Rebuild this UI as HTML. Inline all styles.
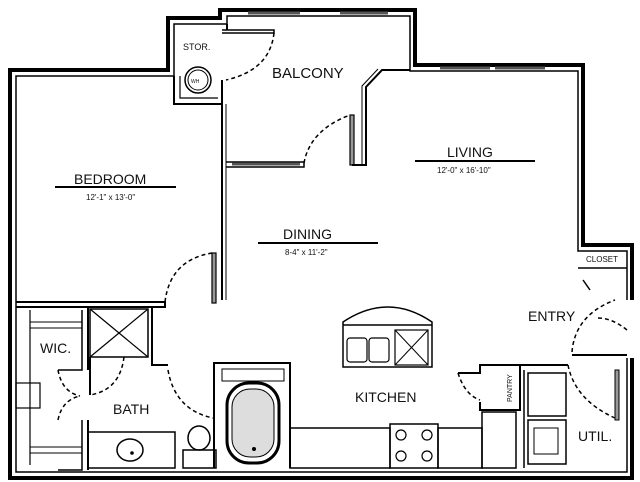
<!DOCTYPE html>
<html><head><meta charset="utf-8"><style>
body{margin:0;background:#fff;}
svg{display:block}
text{font-family:"Liberation Sans",sans-serif;fill:#111}
</style></head><body>
<svg width="640" height="482" viewBox="0 0 640 482" xmlns="http://www.w3.org/2000/svg">
<g fill="none" stroke="#000" stroke-linejoin="miter">
<!-- outer wall thick -->
<polyline stroke-width="4" points="632,300 632,245 583,245 583,65 415,65 415,10 220,10 220,18 168,18 168,70 10,70 10,478 632,478 632,358"/>
<!-- inner outline -->
<polyline stroke-width="1.5" points="627,300 627,251 578,251 578,71 410,71 410,16 227,16 227,24 174,24 174,76 16,76 16,472 627,472 627,358"/>
<!-- stor box -->
<polyline stroke-width="2" points="174,76 174,104 222,104 222,80"/>
<polyline stroke-width="1.2" points="180,76 180,98 218,98"/>
<line x1="227" y1="24" x2="227" y2="30" stroke-width="2"/>
<polyline stroke-width="1.5" points="222,30 274,30 274,33 222,33"/>
<path d="M274,33 Q270,70 226,80" stroke-dasharray="4,3" stroke-width="1.5"/>
<circle cx="198" cy="80" r="13" stroke-width="1.5"/>
<circle cx="198" cy="80" r="10" stroke-width="1"/>
<!-- bedroom right wall -->
<line x1="222" y1="80" x2="222" y2="300" stroke-width="2"/>
<line x1="226" y1="104" x2="226" y2="300" stroke-width="1"/>
<!-- balcony/dining wall -->
<polyline stroke-width="1.5" points="226,162 304,162 304,167 226,167"/>
<path d="M304,163 Q310,130 350,115" stroke-dasharray="4,3" stroke-width="1.5"/>
<rect x="350" y="115" width="4" height="50" stroke-width="1.2" fill="#999"/>
<polyline stroke-width="2" points="352,165 366,165 366,87 382,70 410,70"/>
<polyline stroke-width="1" points="362,165 362,86 378,69"/>
<!-- bedroom bottom wall & door -->
<polyline stroke-width="2" points="16,302 165,302 165,307 16,307"/>
<path d="M165,302 Q170,260 212,253" stroke-dasharray="4,3" stroke-width="1.5"/>
<rect x="212" y="253" width="4" height="50" fill="#999" stroke-width="1.2"/>
<!-- bath block -->
<polyline stroke-width="2" points="88,307 88,370"/>
<polyline stroke-width="2" points="88,420 88,470"/>
<polyline stroke-width="1.5" points="82,310 82,370 58,370"/>
<polyline stroke-width="1.5" points="82,420 82,470 58,470"/>
<polyline stroke-width="1.2" points="30,310 30,465"/>
<rect x="16" y="383" width="24" height="25" stroke-width="1.2"/>
<rect x="30" y="322" width="52" height="6" stroke-width="1"/>
<rect x="30" y="447" width="52" height="6" stroke-width="1"/>
<path d="M58,370 Q62,392 80,396 M58,420 Q62,400 80,396" stroke-dasharray="4,3" stroke-width="1.5"/>
<rect x="90" y="309" width="58" height="48" stroke-width="1.5"/>
<line x1="90" y1="309" x2="148" y2="357" stroke-width="1.2"/>
<line x1="148" y1="309" x2="90" y2="357" stroke-width="1.2"/>
<line x1="90" y1="357" x2="90" y2="395" stroke-width="2"/>
<path d="M124,357 Q120,390 90,395" stroke-dasharray="4,3" stroke-width="1.5"/>
<polyline stroke-width="2" points="152,307 152,365 168,365"/>
<path d="M168,370 Q175,410 213,418" stroke-dasharray="4,3" stroke-width="1.5"/>
<rect x="88" y="432" width="87" height="36" stroke-width="1.5"/>
<ellipse cx="130" cy="450" rx="13" ry="11" stroke-width="1.5"/>
<ellipse cx="199" cy="438" rx="11" ry="12" stroke-width="1.5"/>
<rect x="183" y="450" width="33" height="18" stroke-width="1.5"/>
<!-- tub -->
<polyline stroke-width="2" points="214,468 214,363 290,363 290,468"/>
<rect x="222" y="369" width="62" height="12" stroke-width="1"/>
<rect x="227" y="383" width="52" height="80" rx="22" stroke-width="3"/>
<rect x="232" y="389" width="42" height="68" rx="18" fill="#ddd" stroke-width="1"/>
<!-- counters -->
<rect x="290" y="428" width="100" height="40" stroke-width="1.5"/>
<rect x="390" y="424" width="48" height="44" stroke-width="1.5"/>
<rect x="438" y="428" width="44" height="40" stroke-width="1.5"/>
<rect x="482" y="412" width="34" height="56" stroke-width="1.5"/>
<g stroke-width="1.2"><circle cx="401" cy="435" r="5"/><circle cx="427" cy="435" r="5"/><circle cx="401" cy="456" r="5"/><circle cx="427" cy="456" r="5"/></g>
<!-- island -->
<path d="M343,322 Q388,292 432,322 L432,367 L343,367 Z" stroke-width="1.5"/>
<line x1="343" y1="325" x2="432" y2="325" stroke-width="1.5"/>
<rect x="347" y="338" width="20" height="24" rx="3" stroke-width="1.2"/>
<rect x="369" y="338" width="20" height="24" rx="3" stroke-width="1.2"/>
<rect x="395" y="330" width="33" height="35" stroke-width="1.2"/>
<line x1="395" y1="330" x2="428" y2="365" stroke-width="1"/>
<line x1="428" y1="330" x2="395" y2="365" stroke-width="1"/>
<!-- pantry -->
<polyline stroke-width="2" points="458,373 480,373 480,365 520,365 520,410 480,410 480,402"/>
<path d="M458,373 Q465,395 480,400" stroke-dasharray="4,3" stroke-width="1.5"/>
<!-- util -->
<polyline stroke-width="2" points="520,365 568,365"/>
<line x1="524" y1="370" x2="524" y2="468" stroke-width="1.5"/>
<rect x="528" y="373" width="38" height="43" stroke-width="1.5"/>
<rect x="528" y="420" width="38" height="44" stroke-width="1.5"/>
<rect x="534" y="428" width="24" height="26" stroke-width="1"/>
<path d="M568,365 Q575,400 615,418" stroke-dasharray="4,3" stroke-width="1.5"/>
<rect x="615" y="370" width="4" height="50" fill="#999" stroke-width="1"/>
<polyline stroke-width="2" points="572,355 627,355"/>
<!-- entry door -->
<path d="M572,352 Q575,315 615,300 M598,318 Q612,318 627,330" stroke-dasharray="4,3" stroke-width="1.5"/>
<polyline stroke-width="1.5" points="578,268 627,268"/>
<polyline stroke-width="1.5" points="583,280 590,290 M627,280 622,290"/>
<!-- windows -->
<g stroke="#555" stroke-width="3">
<line x1="248" y1="13" x2="300" y2="13"/><line x1="340" y1="13" x2="388" y2="13"/>
<line x1="440" y1="68" x2="490" y2="68"/><line x1="495" y1="68" x2="545" y2="68"/>
<line x1="232" y1="164" x2="300" y2="164"/>
</g>
<!-- label lines -->
<line x1="55" y1="187" x2="176" y2="187" stroke-width="2"/>
<line x1="415" y1="161" x2="535" y2="161" stroke-width="2"/>
<line x1="258" y1="243" x2="378" y2="243" stroke-width="2"/>
</g>
<g fill="#000"><circle cx="132" cy="453" r="1.8"/><circle cx="254" cy="449" r="2"/></g>
<text x="183" y="50" font-size="9">STOR.</text>
<text x="191" y="83" font-size="5">WH</text>
<text x="272" y="78" font-size="15">BALCONY</text>
<text x="74" y="184" font-size="14">BEDROOM</text>
<text x="86" y="200" font-size="8">12'-1" x 13'-0"</text>
<text x="447" y="157" font-size="14">LIVING</text>
<text x="437" y="173" font-size="8">12'-0" x 16'-10"</text>
<text x="283" y="239" font-size="14">DINING</text>
<text x="285" y="255" font-size="8">8-4" x 11'-2"</text>
<text x="586" y="262" font-size="8">CLOSET</text>
<text x="528" y="321" font-size="14">ENTRY</text>
<text x="40" y="353" font-size="14">WIC.</text>
<text x="113" y="414" font-size="14">BATH</text>
<text x="355" y="402" font-size="14">KITCHEN</text>
<text x="578" y="441" font-size="14">UTIL.</text>
<text x="0" y="0" font-size="7" transform="translate(512,402) rotate(-90)">PANTRY</text>
</svg>
</body></html>
